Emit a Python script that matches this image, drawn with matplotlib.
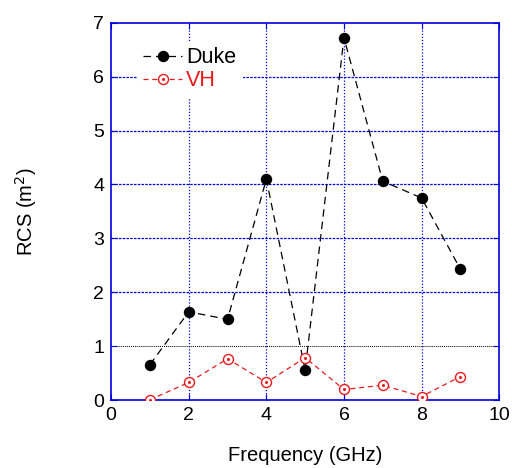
import matplotlib
matplotlib.use("Agg")
import matplotlib.pyplot as plt
from matplotlib.legend_handler import HandlerTuple

plt.rcParams['font.family'] = ['Liberation Sans', 'DejaVu Sans']

freq = [1, 2, 3, 4, 5, 6, 7, 8, 9]
duke = [0.66, 1.64, 1.50, 4.10, 0.56, 6.72, 4.06, 3.75, 2.43]
vh = [0.01, 0.33, 0.77, 0.33, 0.79, 0.20, 0.28, 0.07, 0.44]
xticks = [0, 2, 4, 6, 8, 10]
yticks = [0, 1, 2, 3, 4, 5, 6, 7]

fig = plt.figure(figsize=(5.12, 4.68), dpi=100)
ax = fig.add_axes([0.217, 0.1447, 0.758, 0.807])

blue = '#0000dd'
for y in yticks[1:-1]:
    if y == 1:
        ax.axhline(y, color='black', lw=0.7, ls=(0, (1, 1)), zorder=1)
    else:
        ax.axhline(y, color=blue, lw=0.9, ls=(0, (2, 1)), zorder=1)
for x in xticks[1:-1]:
    ax.axvline(x, color=blue, lw=0.9, ls=(0, (1, 1.5)), zorder=1)

h1, = ax.plot(freq, duke, color='black', lw=0.9, ls=(0, (6, 4)),
              marker='o', ms=7.2, mfc='black', mec='black', zorder=3)
h2, = ax.plot(freq, vh, color='#e8191c', lw=0.9, ls=(0, (4, 3)),
              marker='o', ms=7.2, mfc='white', mec='#e8191c', mew=1.0, zorder=3)
h3, = ax.plot(freq, vh, ls='none', marker='o', ms=1.2, color='#e8191c', zorder=4)

ax.set_xlim(0, 10)
ax.set_ylim(0, 7)
ax.set_xticks(xticks)
ax.set_yticks(yticks)
ax.tick_params(axis='both', which='major', direction='in', length=4, color=blue,
               top=True, right=True, labelsize=14, pad=5)
for s in ax.spines.values():
    s.set_color(blue)
    s.set_linewidth(1.2)

ax.set_xlabel('Frequency (GHz)', fontsize=14.5)
ax.set_ylabel('RCS (m$^2$)', fontsize=14.5)
ax.xaxis.set_label_coords(0.5, (400.3 - 456) / 377.6)
ax.xaxis.label.set_va('center')
ax.yaxis.set_label_coords((26 - 111) / 388, 0.5)
ax.yaxis.label.set_va('center')

leg = ax.legend([h1, (h2, h3)], ['Duke', 'VH'], loc='upper left',
                bbox_to_anchor=(0.066, 0.952), borderaxespad=0,
                frameon=True, fontsize=15.5,
                facecolor='white', edgecolor='none', framealpha=1.0,
                fancybox=False, borderpad=0.3,
                handlelength=1.8, handletextpad=0.2, labelspacing=0.1,
                handler_map={tuple: HandlerTuple(ndivide=1)})
leg.get_texts()[1].set_color('#e8191c')

fig.savefig('out.png', dpi=100)
